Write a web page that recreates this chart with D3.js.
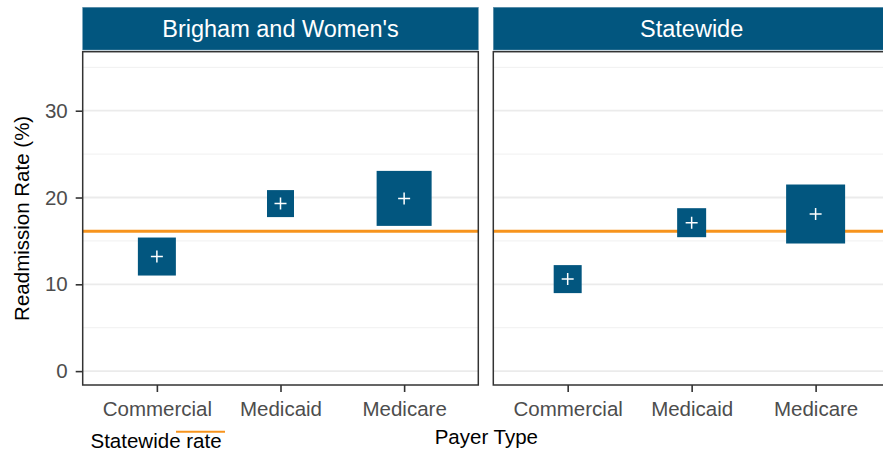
<!DOCTYPE html>
<html>
<head>
<meta charset="utf-8">
<script src="https://cdn.jsdelivr.net/npm/d3@7"></script>
<style>
  html, body { margin: 0; padding: 0; background: #fff; }
  svg { display: block; font-family: "Liberation Sans", Arial, Helvetica, sans-serif; }
</style>
</head>
<body>
<svg id="chart" width="883" height="452"></svg>
<script>
// ---- data ----
const facets = ["Brigham and Women's", "Statewide"];
const payers = ["Commercial", "Medicaid", "Medicare"];
const bwhRate = [13.2, 19.3, 19.9];
const stateRate = [10.6, 17.1, 18.1];
const bwhVolume = [1444, 729, 3025];
const stateVolume = [784, 841, 3481];
const statewideRate = 16.1;
const yTicks = [0, 10, 20, 30];
const yMinor = [5, 15, 25, 35];
const legendLabel = "Statewide rate";
const xTitle = "Payer Type";
const yTitle = "Readmission Rate (%)";

// ---- layout ----
const svg = d3.select("#chart");
const blue = "#02567f";
const orange = "#f7941d";
const panelTop = 51.7, panelBottom = 385;
const panels = [
  { name: facets[0], x0: 82.7, x1: 478.3, rate: bwhRate, vol: bwhVolume },
  { name: facets[1], x0: 493.3, x1: 890, rate: stateRate, vol: stateVolume }
];

const y = d3.scaleLinear().domain([-1.6, 36.8]).range([panelBottom, panelTop]);
const size = d3.scaleSqrt().domain([0, d3.max(bwhVolume.concat(stateVolume))]).range([0, 59]);

panels.forEach((p, pi) => {
  const x = d3.scalePoint().domain(payers).range([p.x0, p.x1]).padding(0.6);
  const g = svg.append("g");

  // strip
  g.append("rect").attr("x", p.x0).attr("y", 7.3).attr("width", p.x1 - p.x0).attr("height", 42.7)
    .attr("fill", blue).attr("stroke", "#5f90ab").attr("stroke-width", 0.6);
  g.append("text").attr("x", (p.x0 + p.x1) / 2).attr("y", 37).attr("text-anchor", "middle")
    .attr("fill", "#fff").attr("font-size", 23.5).text(p.name);

  // gridlines
  g.selectAll(".minor").data(yMinor).join("line")
    .attr("x1", p.x0).attr("x2", p.x1).attr("y1", d => y(d)).attr("y2", d => y(d))
    .attr("stroke", "#f0f0f0").attr("stroke-width", 1);
  g.selectAll(".major").data(yTicks).join("line")
    .attr("x1", p.x0).attr("x2", p.x1).attr("y1", d => y(d)).attr("y2", d => y(d))
    .attr("stroke", "#ebebeb").attr("stroke-width", 1.8);

  // statewide reference line
  g.append("line").attr("x1", p.x0).attr("x2", p.x1)
    .attr("y1", y(statewideRate)).attr("y2", y(statewideRate))
    .attr("stroke", orange).attr("stroke-width", 3);

  // squares
  payers.forEach((c, i) => {
    const s = size(p.vol[i]);
    g.append("rect").attr("x", x(c) - s / 2).attr("y", y(p.rate[i]) - s / 2)
      .attr("width", s).attr("height", s).attr("fill", blue);
    const cx = x(c), cy = y(p.rate[i]), h = 6;
    g.append("path").attr("d", `M${cx - h},${cy}H${cx + h}M${cx},${cy - h}V${cy + h}`)
      .attr("stroke", "#fff").attr("stroke-width", 1.5).attr("fill", "none");
  });

  // border
  g.append("rect").attr("x", p.x0).attr("y", panelTop).attr("width", p.x1 - p.x0)
    .attr("height", panelBottom - panelTop).attr("fill", "none")
    .attr("stroke", "#333").attr("stroke-width", 1.5);

  // x axis
  const xa = g.append("g").attr("transform", `translate(0,${panelBottom})`)
    .call(d3.axisBottom(x).tickSize(7).tickPadding(9));
  xa.select(".domain").remove();
  xa.selectAll(".tick line").attr("stroke", "#333").attr("stroke-width", 1.6);
  xa.selectAll(".tick text").attr("fill", "#4d4d4d").attr("font-size", 20.5)
    .attr("font-family", "Liberation Sans, Arial, sans-serif").attr("dy", "0.71em");

  if (pi === 0) {
    const ya = g.append("g").attr("transform", `translate(${p.x0},0)`)
      .call(d3.axisLeft(y).tickValues(yTicks).tickSize(7).tickPadding(8));
    ya.select(".domain").remove();
    ya.selectAll(".tick line").attr("stroke", "#333").attr("stroke-width", 1.6);
    ya.selectAll(".tick text").attr("fill", "#4d4d4d").attr("font-size", 20.5)
      .attr("font-family", "Liberation Sans, Arial, sans-serif");
  }
});

// axis titles
svg.append("text").attr("x", (panels[0].x0 + panels[1].x1) / 2).attr("y", 444)
  .attr("text-anchor", "middle").attr("font-size", 20.5).attr("fill", "#000").text(xTitle);
svg.append("text").attr("transform", `translate(29,${(panelTop + panelBottom) / 2}) rotate(-90)`)
  .attr("text-anchor", "middle").attr("font-size", 20.5).attr("fill", "#000").text(yTitle);

// legend
svg.append("text").attr("x", 90.5).attr("y", 448).attr("font-size", 20.5).attr("fill", "#000").text(legendLabel);
svg.append("line").attr("x1", 176).attr("x2", 225).attr("y1", 431.7).attr("y2", 431.7)
  .attr("stroke", orange).attr("stroke-width", 2);
</script>
</body>
</html>
